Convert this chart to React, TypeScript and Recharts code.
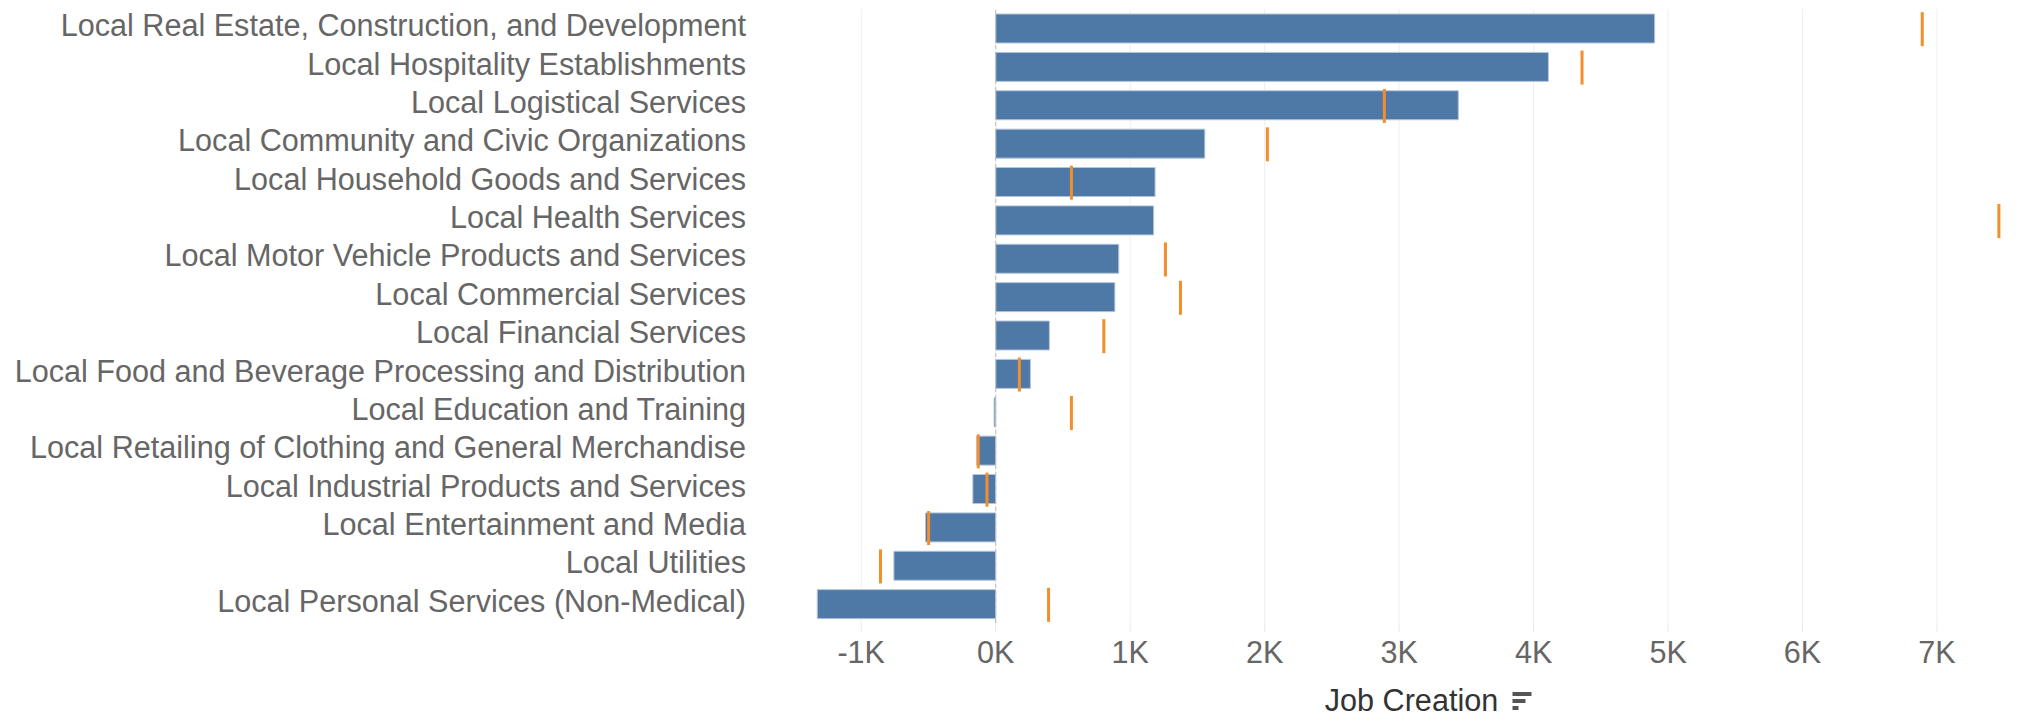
import React from "react";
import {
  ComposedChart,
  Bar,
  Scatter,
  XAxis,
  YAxis,
  CartesianGrid,
  ReferenceLine,
} from "recharts";

const categories = [
  "Local Real Estate, Construction, and Development",
  "Local Hospitality Establishments",
  "Local Logistical Services",
  "Local Community and Civic Organizations",
  "Local Household Goods and Services",
  "Local Health Services",
  "Local Motor Vehicle Products and Services",
  "Local Commercial Services",
  "Local Financial Services",
  "Local Food and Beverage Processing and Distribution",
  "Local Education and Training",
  "Local Retailing of Clothing and General Merchandise",
  "Local Industrial Products and Services",
  "Local Entertainment and Media",
  "Local Utilities",
  "Local Personal Services (Non-Medical)",
];

// actual job creation (bars)
const jobCreation = [
  4900, 4110, 3440, 1555, 1185, 1174, 915, 886, 399, 258, -12, -141, -170,
  -522, -757, -1327,
];

// expected / benchmark value (orange ticks)
const expected = [
  6890, 4360, 2890, 2020, 563, 7460, 1262, 1374, 804, 176, 563, -130, -65,
  -499, -857, 393,
];

const xTicks = [-1000, 0, 1000, 2000, 3000, 4000, 5000, 6000, 7000];
const xDomain: [number, number] = [-1500, 7550];

const data = categories.map((name, i) => ({
  name,
  value: jobCreation[i],
  target: expected[i],
}));

const FONT = "'Liberation Sans', Arial, sans-serif";
const FS = 30.6;

const YTick = (props: any) => {
  const { x, y, payload } = props;
  return (
    <text x={x} y={y} dy={8} textAnchor="end" fill="#666" fontSize={FS} fontFamily={FONT}>
      {payload.value}
    </text>
  );
};

const XTick = (props: any) => {
  const { x, y, payload } = props;
  return (
    <text x={x} y={y} dy={31} textAnchor="middle" fill="#666" fontSize={FS} fontFamily={FONT}>
      {`${payload.value / 1000}K`}
    </text>
  );
};

const TargetMark = (props: any) => {
  const { cx, cy } = props;
  if (cx == null || cy == null) return null;
  return <rect x={cx - 1.5} y={cy - 16} width={3} height={34} fill="#F28E2B" />;
};

const AxisTitle = (props: any) => {
  const { viewBox } = props;
  const cx = viewBox.x + viewBox.width / 2 + 9;
  const y = 711;
  const ix = cx + 101;
  return (
    <g>
      <text x={cx} y={y} textAnchor="middle" fill="#333" fontSize={FS} fontFamily={FONT}>
        Job Creation
      </text>
      <rect x={ix} y={692} width={19} height={4} fill="#555" />
      <rect x={ix} y={699} width={13} height={4} fill="#555" />
      <rect x={ix} y={706} width={6} height={4} fill="#555" />
    </g>
  );
};

// grid only at the tick values (no line at the plot edge)
const gridX = ({ offset }: any) => {
  if (!offset) return [];
  const span = xDomain[1] - xDomain[0];
  return xTicks.map((t) => offset.left + ((t - xDomain[0]) / span) * offset.width);
};

export default function App() {
  return (
    <div style={{ position: "absolute", left: 0, top: 0, background: "#fff" }}>
      <ComposedChart
        width={2017}
        height={728}
        data={data}
        layout="vertical"
        margin={{ top: 9, right: 6, bottom: 0, left: 0 }}
      >
        <CartesianGrid
          horizontal={false}
          stroke="#efefef"
          verticalCoordinatesGenerator={gridX}
        />
        <XAxis
          type="number"
          domain={xDomain}
          ticks={xTicks}
          axisLine={false}
          tickSize={9}
          tickMargin={0}
          tickLine={{ stroke: "#eaeaea" }}
          height={105}
          tick={<XTick />}
          label={<AxisTitle />}
        />
        <YAxis
          type="category"
          dataKey="name"
          width={794}
          axisLine={false}
          tickLine={false}
          tickSize={0}
          tickMargin={48}
          interval={0}
          tick={<YTick />}
        />
        <Bar
          dataKey="value"
          fill="#4E79A7"
          stroke="#b4c5d9"
          strokeWidth={1}
          barSize={29}
          isAnimationActive={false}
        />
        <ReferenceLine x={0} stroke="#bbb" strokeDasharray="4 3" />
        <Scatter dataKey="target" shape={<TargetMark />} isAnimationActive={false} />
      </ComposedChart>
    </div>
  );
}
